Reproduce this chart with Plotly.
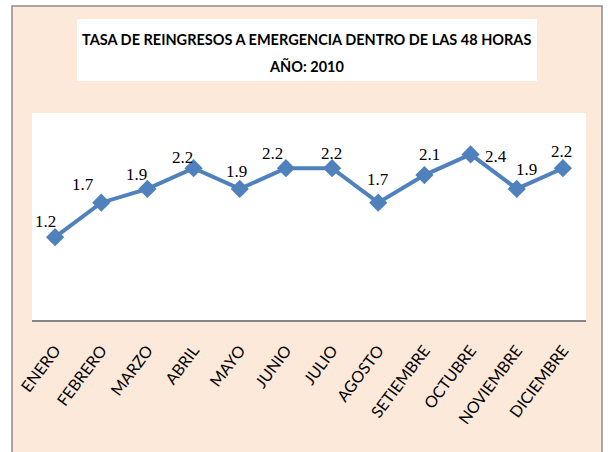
import plotly.graph_objects as go

months = ["ENERO", "FEBRERO", "MARZO", "ABRIL", "MAYO", "JUNIO", "JULIO",
          "AGOSTO", "SETIEMBRE", "OCTUBRE", "NOVIEMBRE", "DICIEMBRE"]
rates = [1.2, 1.7, 1.9, 2.2, 1.9, 2.2, 2.2, 1.7, 2.1, 2.4, 1.9, 2.2]
title_lines = ["TASA DE REINGRESOS A EMERGENCIA DENTRO DE LAS 48 HORAS", "AÑO: 2010"]

# label offsets (pixels) relative to each point, as placed in the original
label_dx = [-10, -18, -11, -11, -3, -13, -1, 0, 5, 25, 10, -1]
label_dy = [16, 18, 14, 11, 17, 15, 15, 23, 21, -2, 19, 17]

W, H = 608, 452
L, R, T, B = 32, 22, 113, 132
pw, ph = W - L - R, H - T - B


def px(x):
    return (x - L) / pw


def py(y):
    return (H - B - y) / ph


BLUE = "#4F81BD"
PEACH = "#FDE9DA"

fig = go.Figure()
fig.add_trace(go.Scatter(
    x=months, y=rates, mode="lines+markers",
    line=dict(color=BLUE, width=4),
    marker=dict(symbol="diamond", size=14, color=BLUE),
    hoverinfo="x+y", showlegend=False,
))

annotations = []
for m, v, dx, dy in zip(months, rates, label_dx, label_dy):
    annotations.append(dict(
        x=m, y=v, xref="x", yref="y", text=f"{v:.1f}", showarrow=False,
        xshift=dx, yshift=dy, xanchor="center", yanchor="middle",
        font=dict(family="Liberation Serif, serif", size=17, color="#000000"),
    ))

title_font = dict(family="Lato, sans-serif", size=14.5, color="#000000")
annotations.append(dict(x=px(306.5), y=py(39), xref="paper", yref="paper",
                        text=f"<b>{title_lines[0]}</b>", showarrow=False,
                        xanchor="center", yanchor="middle", font=title_font))
annotations.append(dict(x=px(306.5), y=py(66), xref="paper", yref="paper",
                        text=f"<b>{title_lines[1]}</b>", showarrow=False,
                        xanchor="center", yanchor="middle", font=title_font))

shapes = [
    dict(type="rect", xref="paper", yref="paper", layer="below",
         x0=px(12), x1=px(602), y0=py(470), y1=py(6),
         fillcolor=PEACH, line=dict(color="#8C8C8C", width=1.5)),
    dict(type="rect", xref="paper", yref="paper", layer="below",
         x0=0, x1=1, y0=0, y1=1, fillcolor="white", line=dict(width=0)),
    dict(type="rect", xref="paper", yref="paper", layer="below",
         x0=px(77), x1=px(537), y0=py(81), y1=py(19),
         fillcolor="white", line=dict(width=0)),
]

fig.update_layout(
    width=W, height=H,
    margin=dict(l=L, r=R, t=T, b=B, pad=0),
    paper_bgcolor="white", plot_bgcolor="white",
    annotations=annotations, shapes=shapes,
    xaxis=dict(
        type="category", range=[-0.5, 11.5], showgrid=False, zeroline=False,
        showline=True, linecolor="#868686", linewidth=1.5, ticks="",
        tickangle=-53, ticklabelstandoff=13,
        tickfont=dict(family="Lato, sans-serif", size=16, color="#000000"),
    ),
    yaxis=dict(range=[0, 3], visible=False, showgrid=False, zeroline=False),
)

fig.write_html(
    "out.html",
    config={"displayModeBar": False},
    post_script="document.body.style.margin='0';document.body.style.overflow='hidden';",
)
